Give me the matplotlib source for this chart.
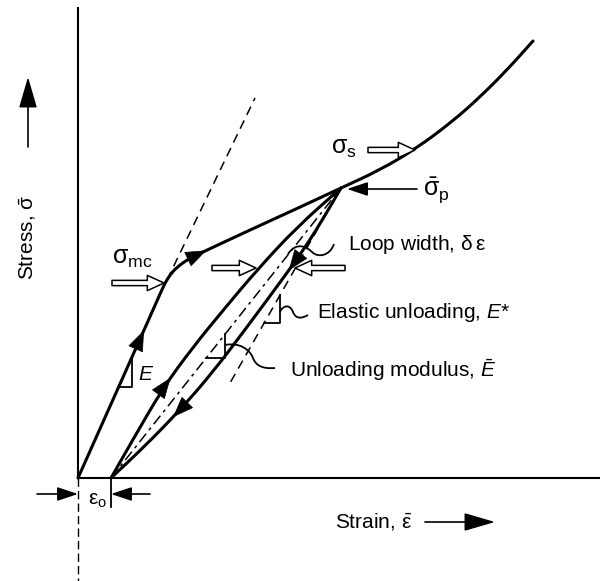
import numpy as np
import matplotlib.pyplot as plt
from matplotlib.patches import FancyArrowPatch, PathPatch
from matplotlib.path import Path

plt.rcParams['font.family'] = ['Liberation Sans', 'DejaVu Sans']
plt.rcParams['mathtext.fontset'] = 'custom'
plt.rcParams['mathtext.rm'] = 'Liberation Sans'
plt.rcParams['mathtext.it'] = 'Liberation Sans:italic'
plt.rcParams['mathtext.default'] = 'rm'

# schematic stress-strain data (arbitrary units)
eps0 = 0.33
main_strain = [0.00, 0.75, 0.82, 0.87, 0.92, 0.99, 1.12, 1.25, 1.42, 1.72, 2.18, 2.63,
               3.02, 3.39, 3.75, 4.02, 4.29, 4.55]
main_stress = [0.00, 1.68, 1.84, 1.95, 2.03, 2.11, 2.20, 2.26, 2.34, 2.48, 2.69, 2.90,
               3.08, 3.30, 3.57, 3.81, 4.08, 4.37]
reload_strain = [0.33, 0.57, 0.85, 1.15, 1.47, 1.79, 2.19, 2.63]
reload_stress = [0.00, 0.42, 0.90, 1.31, 1.70, 2.08, 2.51, 2.90]
unload_strain = [2.63, 2.49, 2.32, 2.14, 1.92, 1.69, 1.35, 1.02, 0.67, 0.33]
unload_stress = [2.90, 2.66, 2.38, 2.12, 1.82, 1.51, 1.06, 0.68, 0.32, 0.00]
secant_strain = [0.33, 2.63]          # unloading modulus E-bar
secant_stress = [0.00, 2.90]
elastic_strain = [2.63, 1.52]         # elastic unloading E*
elastic_stress = [2.90, 0.95]
tangent_strain = [0.89, 1.77]         # extension of initial modulus
tangent_stress = [1.98, 3.80]

# slope triangles: (x_left, x_right, y_base, y_top)
tri_E = (0.41, 0.54, 0.91, 1.21)
tri_Ebar = (1.28, 1.47, 1.20, 1.44)
tri_Estar = (1.86, 2.02, 1.55, 1.83)

# wavy leaders (cubic bezier control points)
lead_loop = [(2.10, 2.24), (2.18, 2.36), (2.28, 2.32), (2.34, 2.26), (2.40, 2.20), (2.52, 2.22), (2.56, 2.34)]
lead_estar = [(2.02, 1.66), (2.05, 1.73), (2.12, 1.74), (2.15, 1.66), (2.18, 1.58), (2.25, 1.60), (2.30, 1.63)]
lead_ebar = [(1.47, 1.33), (1.62, 1.36), (1.72, 1.28), (1.75, 1.20), (1.78, 1.12), (1.85, 1.09), (1.97, 1.10)]

# hollow arrows (tail, tip)
hollow = [((0.34, 1.95), (0.86, 1.95)),
          ((1.34, 2.10), (1.78, 2.10)),
          ((2.67, 2.10), (2.17, 2.10)),
          ((2.90, 3.28), (3.37, 3.28))]

fig = plt.figure(figsize=(6.0, 5.81), dpi=100)
ax = fig.add_axes([0, 0, 1, 1])
ax.set_xlim(-0.78, 5.22)
ax.set_ylim(-1.03, 4.78)
ax.axis('off')

LW = 2.2


def smooth_curve(xs, ys, lw=LW):
    # draw polyline with rounded corners (quadratic pieces through segment midpoints)
    pts = list(zip(xs, ys))
    verts = [pts[0]]
    codes = [Path.MOVETO]
    for k in range(1, len(pts) - 1):
        m0 = ((pts[k - 1][0] + pts[k][0]) / 2, (pts[k - 1][1] + pts[k][1]) / 2)
        m1 = ((pts[k][0] + pts[k + 1][0]) / 2, (pts[k][1] + pts[k + 1][1]) / 2)
        verts += [m0, pts[k], m1]
        codes += [Path.LINETO, Path.CURVE3, Path.CURVE3]
    verts.append(pts[-1])
    codes.append(Path.LINETO)
    ax.add_patch(PathPatch(Path(verts, codes), fc='none', ec='black', lw=lw, capstyle='round'))


# axes
ax.plot([0, 0], [0, 4.70], color='black', lw=1.5)
ax.plot([0, 5.22], [0, 0], color='black', lw=1.5)
ax.plot([0, 0], [0, -1.03], color='black', lw=1.0, ls=(0, (6, 3)))
ax.plot([eps0, eps0], [0, -0.29], color='black', lw=1.3)

# curves
smooth_curve(main_strain, main_stress)
smooth_curve(reload_strain, reload_stress)
smooth_curve(unload_strain, unload_stress)
ax.plot(secant_strain, secant_stress, color='black', lw=1.1, ls=(0, (7, 3, 2, 3)))
ax.plot(elastic_strain, elastic_stress, color='black', lw=1.1, ls=(0, (6, 4)))
ax.plot(tangent_strain, tangent_stress, color='black', lw=1.1, ls=(0, (6, 4)))

# slope triangles
for xl, xr, yb, yt in [tri_E, tri_Ebar, tri_Estar]:
    ax.plot([xl, xr, xr], [yb, yb, yt], color='black', lw=1.3)

# leaders
for pts in [lead_loop, lead_estar, lead_ebar]:
    codes = [Path.MOVETO] + [Path.CURVE4] * (len(pts) - 1)
    ax.add_patch(PathPatch(Path(pts, codes), fc='none', ec='black', lw=1.3))


def head_on(xs, ys, i, frac, size=14):
    # filled arrowhead on segment i of a polyline
    x0, y0, x1, y1 = xs[i], ys[i], xs[i + 1], ys[i + 1]
    tx, ty = x0 + frac * (x1 - x0), y0 + frac * (y1 - y0)
    d = np.hypot(x1 - x0, y1 - y0)
    bx, by = tx - 0.14 * (x1 - x0) / d, ty - 0.14 * (y1 - y0) / d
    ax.add_patch(FancyArrowPatch((bx, by), (tx, ty), arrowstyle='-|>,head_length=1.0,head_width=0.38',
                                 mutation_scale=size, color='black', lw=0.5, shrinkA=0, shrinkB=0))


head_on(main_strain, main_stress, 0, 0.88)
head_on(main_strain, main_stress, 7, 0.2)
head_on(reload_strain, reload_stress, 2, 0.25)
head_on(unload_strain, unload_stress, 3, 0.15)
head_on(unload_strain, unload_stress, 7, 0.2)

for tail, tip in hollow:
    ax.add_patch(FancyArrowPatch(tail, tip, arrowstyle='simple,head_length=12,head_width=11,tail_width=3.8',
                                 mutation_scale=1, fc='white', ec='black', lw=1.1, shrinkA=0, shrinkB=0))


def line_arrow(tail, tip, hl=0.9, hw=0.3, size=14, lw=1.2):
    ax.add_patch(FancyArrowPatch(tail, tip, arrowstyle=f'-|>,head_length={hl},head_width={hw}',
                                 mutation_scale=size, color='black', lw=lw, shrinkA=0, shrinkB=0))


line_arrow((3.39, 2.89), (2.69, 2.89))
line_arrow((-0.50, 3.31), (-0.50, 4.01), hl=1.2, hw=0.35, size=16)
line_arrow((3.47, -0.44), (4.17, -0.44), hl=1.2, hw=0.35, size=16)
line_arrow((-0.41, -0.16), (0.0, -0.16))
line_arrow((0.72, -0.16), (eps0, -0.16))

FS = 15
SIG = 18
ax.text(-0.50, 2.41, r'Stress, $\bar{\sigma}$', rotation=90, ha='center', va='center', fontsize=FS)
ax.text(2.57, -0.44, r'Strain, $\bar{\varepsilon}$', ha='left', va='center', fontsize=FS)
ax.text(0.54, 2.20, r'$\sigma_{\rm mc}$', ha='center', va='center', fontsize=SIG)
ax.text(2.66, 3.30, r'$\sigma_{\rm s}$', ha='center', va='center', fontsize=SIG)
ax.text(3.45, 2.88, r'$\bar{\sigma}_{\rm p}$', ha='left', va='center', fontsize=SIG)
ax.text(2.70, 2.33, r'Loop width, $\delta\,\varepsilon$', ha='left', va='center', fontsize=FS)
ax.text(2.39, 1.65, r'Elastic unloading, $\mathit{E}$*', ha='left', va='center', fontsize=FS)
ax.text(2.12, 1.08, r'Unloading modulus, $\bar{\mathit{E}}$', ha='left', va='center', fontsize=FS)
ax.text(0.68, 1.04, r'$\mathit{E}$', ha='center', va='center', fontsize=FS)
ax.text(0.19, -0.22, r'$\varepsilon_{\rm o}$', ha='center', va='center', fontsize=FS)

fig.savefig('out.png', dpi=100)
